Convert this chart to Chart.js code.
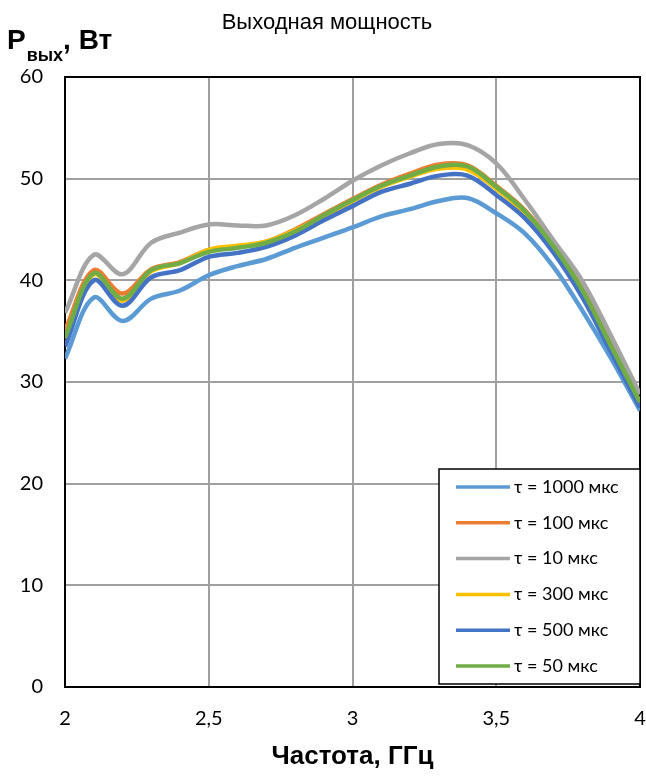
<!DOCTYPE html>
<html>
<head>
<meta charset="utf-8">
<script src="https://cdn.jsdelivr.net/npm/chart.js@4.4.1/dist/chart.umd.min.js"></script>
<style>
    html, body { margin: 0; padding: 0; background: #fff; }
    #wrap { width: 646px; height: 776px; }
</style>
</head>
<body>
<div id="wrap"><canvas id="myChart" width="646" height="776"></canvas></div>
<script>
// частота, ГГц
var freq = [2.0, 2.1, 2.2, 2.3, 2.4, 2.5, 2.6, 2.7, 2.8, 2.9, 3.0, 3.1, 3.2, 3.3, 3.4, 3.5, 3.6, 3.7, 3.8, 3.9, 4.0];

// выходная мощность, Вт
var p1000 = [32.3, 38.3, 36.0, 38.2, 39.0, 40.5, 41.4, 42.1, 43.2, 44.2, 45.2, 46.3, 47.0, 47.8, 48.1, 46.6, 44.6, 41.3, 37.0, 32.3, 27.2];
var p100 = [35.1, 41.0, 38.7, 41.1, 41.8, 43.0, 43.3, 43.8, 45.0, 46.5, 48.0, 49.4, 50.5, 51.4, 51.3, 49.3, 46.9, 43.4, 39.1, 33.6, 28.0];
var p10 = [36.8, 42.5, 40.6, 43.7, 44.7, 45.5, 45.4, 45.4, 46.4, 48.0, 49.8, 51.3, 52.5, 53.4, 53.3, 51.5, 47.9, 43.9, 39.9, 34.5, 28.8];
var p300 = [34.3, 40.6, 38.0, 40.9, 41.7, 43.0, 43.4, 43.8, 44.9, 46.3, 47.8, 49.2, 50.2, 51.0, 50.9, 49.0, 46.6, 43.1, 38.8, 33.3, 27.9];
var p500 = [33.5, 40.0, 37.5, 40.3, 41.0, 42.3, 42.7, 43.3, 44.4, 45.9, 47.3, 48.7, 49.5, 50.3, 50.3, 48.4, 46.1, 42.7, 38.3, 32.9, 27.5];
var p50 = [34.4, 40.7, 38.2, 41.0, 41.7, 42.8, 43.2, 43.7, 44.8, 46.4, 47.9, 49.3, 50.3, 51.2, 51.2, 49.2, 46.8, 43.3, 39.0, 33.5, 28.0];

var seriesNames = ["τ = 1000 мкс", "τ = 100 мкс", "τ = 10 мкс", "τ = 300 мкс", "τ = 500 мкс", "τ = 50 мкс"];
var seriesColors = ["#5b9bd5", "#ed7d31", "#a5a5a5", "#ffc000", "#4472c4", "#70ad47"];
var seriesValues = [p1000, p100, p10, p300, p500, p50];

var narrow = "'Liberation Sans Narrow', 'Arial Narrow', 'Liberation Sans', sans-serif";

function toPoints(vals) {
    return vals.map(function (v, i) { return {x: freq[i], y: v}; });
}

var datasets = seriesValues.map(function (vals, i) {
    return {
        label: seriesNames[i],
        data: toPoints(vals),
        borderColor: seriesColors[i],
        backgroundColor: seriesColors[i],
        borderWidth: 4.5,
        pointRadius: 0,
        tension: 0.35,
        fill: false,
        // excel draws later series on top
        order: seriesValues.length - i
    };
});

// рамка, заголовок, подпись оси Y, легенда
var decorPlugin = {
    id: 'decor',
    beforeDatasetsDraw: function (chart) {
        var a = chart.chartArea, ctx = chart.ctx;
        ctx.save();
        ctx.strokeStyle = '#000';
        ctx.lineWidth = 2;
        ctx.strokeRect(a.left, a.top, a.right - a.left, a.bottom - a.top);
        ctx.restore();
    },
    afterDraw: function (chart) {
        var ctx = chart.ctx;
        ctx.save();
        ctx.fillStyle = '#000';
        ctx.textBaseline = 'alphabetic';

        // title
        ctx.font = "22px " + narrow;
        ctx.textAlign = 'center';
        ctx.fillText("Выходная мощность", 327, 29);

        // y label
        ctx.textAlign = 'left';
        ctx.font = "bold 28px " + narrow;
        ctx.fillText("P", 7, 49);
        var x = 7 + ctx.measureText("P").width + 1;
        ctx.font = "bold 18px " + narrow;
        ctx.fillText("вых", x, 61);
        x += ctx.measureText("вых").width;
        ctx.font = "bold 28px " + narrow;
        ctx.fillText(", Вт", x, 49);

        // legend
        var bx = 439, by = 469, bw = 201, bh = 215;
        ctx.fillStyle = '#fff';
        ctx.fillRect(bx, by, bw, bh);
        ctx.strokeStyle = '#000';
        ctx.lineWidth = 1.5;
        ctx.strokeRect(bx, by, bw, bh);
        ctx.font = "18px Lato, 'Noto Sans', sans-serif";
        ctx.textBaseline = 'middle';
        chart.data.datasets.forEach(function (ds, i) {
            var y = 487 + i * 35.8;
            ctx.strokeStyle = ds.borderColor;
            ctx.lineWidth = 3.5;
            ctx.beginPath();
            ctx.moveTo(456, y);
            ctx.lineTo(510, y);
            ctx.stroke();
            ctx.fillStyle = '#000';
            ctx.fillText(ds.label, 514, y);
        });
        ctx.restore();
    }
};

var config = {
    type: 'line',
    data: {datasets: datasets},
    options: {
        responsive: false,
        animation: false,
        layout: {padding: {top: 77, right: 6, left: 0, bottom: 0}},
        plugins: {
            legend: {display: false},
            title: {display: false},
            tooltip: {enabled: false}
        },
        scales: {
            x: {
                type: 'linear',
                min: 2,
                max: 4,
                afterFit: function (scale) {
                    scale.height = 89;
                    scale.paddingLeft = 0;
                    scale.paddingRight = 0;
                },
                ticks: {
                    stepSize: 0.5,
                    padding: 20,
                    color: '#000',
                    font: {family: "Lato", size: 20},
                    callback: function (v) { return String(v).replace('.', ','); }
                },
                grid: {color: '#a0a0a0', lineWidth: 2, drawTicks: false},
                border: {display: true, color: '#000', width: 2},
                title: {
                    display: true,
                    text: 'Частота, ГГц',
                    color: '#000',
                    font: {family: narrow, size: 26, weight: 'bold', lineHeight: 1},
                    padding: {top: 0, bottom: 6}
                }
            },
            y: {
                min: 0,
                max: 60,
                afterFit: function (scale) { scale.width = 65; },
                ticks: {
                    stepSize: 10,
                    padding: 22,
                    color: '#000',
                    font: {family: "Lato", size: 20}
                },
                grid: {color: '#a0a0a0', lineWidth: 2, drawTicks: false},
                border: {display: true, color: '#000', width: 2}
            }
        }
    },
    plugins: [decorPlugin]
};

var myChart = new Chart(document.getElementById('myChart'), config);
</script>
</body>
</html>
